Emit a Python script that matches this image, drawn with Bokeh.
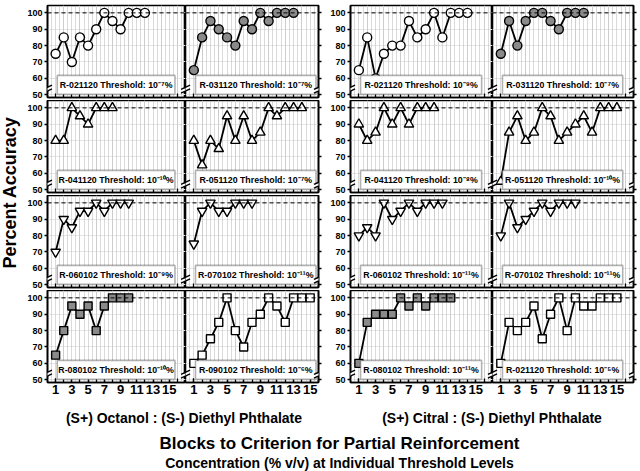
import numpy as np
from bokeh.plotting import figure
from bokeh.layouts import row, column
from bokeh.models import (FixedTicker, LinearAxis, Span, BoxAnnotation, Label, Range1d, Grid,
                          PolyAnnotation, Arrow)
from bokeh.embed import file_html
from bokeh.resources import INLINE
from bokeh.core.properties import value

# ---------------- data (percent accuracy per block) ----------------
# (S+) Octanol : (S-) Diethyl Phthalate
octanol_r021120 = [75, 85, 70, 85, 80, 90, 100, 95, 90, 100, 100, 100]
octanol_r031120 = [65, 85, 95, 90, 85, 80, 95, 90, 100, 95, 100, 100, 100]
octanol_r041120 = [80, 80, 100, 95, 90, 100, 100, 100]
octanol_r051120 = [80, 65, 80, 75, 95, 80, 95, 80, 85, 100, 95, 100, 100, 100]
octanol_r060102 = [70, 90, 85, 95, 95, 100, 95, 100, 100, 100]
octanol_r070102 = [75, 95, 100, 95, 95, 100, 100, 100]
octanol_r080102 = [65, 80, 95, 90, 95, 80, 95, 100, 100, 100]
octanol_r090102 = [60, 65, 75, 85, 100, 80, 70, 85, 90, 100, 95, 85, 100, 100, 100]
# (S+) Citral : (S-) Diethyl Phthalate
citral_r021120 = [65, 85, 60, 75, 80, 80, 95, 85, 90, 100, 85, 100, 100, 100]
citral_r031120 = [75, 95, 80, 95, 100, 100, 95, 90, 100, 100, 100]
citral_r041120 = [90, 80, 85, 100, 90, 100, 90, 100, 100, 100]
citral_r051120 = [55, 85, 95, 80, 85, 100, 95, 80, 85, 90, 95, 85, 100, 100, 100]
citral_r060102 = [80, 85, 80, 100, 90, 95, 100, 95, 100, 100, 100]
citral_r070102 = [80, 100, 85, 90, 95, 100, 95, 100, 100, 100]
citral_r080102 = [60, 85, 90, 90, 90, 100, 95, 100, 95, 100, 100, 100]
citral_r021120_b = [60, 85, 80, 85, 95, 75, 90, 100, 80, 100, 95, 95, 100, 100, 100]

labels = [
    ["R-021120 Threshold: 10\u207b\u2077%", "R-031120 Threshold: 10\u207b\u2077%",
     "R-021120 Threshold: 10\u207b\u2079%", "R-031120 Threshold: 10\u207b\u2077%"],
    ["R-041120 Threshold: 10\u207b\u00b9\u2070%", "R-051120 Threshold: 10\u207b\u2077%",
     "R-041120 Threshold: 10\u207b\u2078%", "R-051120 Threshold: 10\u207b\u00b9\u2070%"],
    ["R-060102 Threshold: 10\u207b\u2079%", "R-070102 Threshold: 10\u207b\u00b9\u00b9%",
     "R-060102 Threshold: 10\u207b\u00b9\u00b9%", "R-070102 Threshold: 10\u207b\u00b9\u00b9%"],
    ["R-080102 Threshold: 10\u207b\u00b9\u2070%", "R-090102 Threshold: 10\u207b\u2076%",
     "R-080102 Threshold: 10\u207b\u00b9\u00b9%", "R-021120 Threshold: 10\u207b\u2075%"],
]
series = [
    [octanol_r021120, octanol_r031120, citral_r021120, citral_r031120],
    [octanol_r041120, octanol_r051120, citral_r041120, citral_r051120],
    [octanol_r060102, octanol_r070102, citral_r060102, citral_r070102],
    [octanol_r080102, octanol_r090102, citral_r080102, citral_r021120_b],
]
row_markers = ["circle", "triangle", "inverted_triangle", "square"]
GRAY = "#8a8a8a"
fills = [
    ["white", GRAY, "white", GRAY],
    ["white", "white", "white", "white"],
    ["white", "white", "white", "white"],
    [GRAY, "white", GRAY, "white"],
]
x_tick_labels = [1, 3, 5, 7, 9, 11, 13, 15]
x_minor_ticks = list(range(1, 17))
y_ticks = [50, 60, 70, 80, 90, 100]
col_xmax = [17, 16, 17, 17]

group_titles = ["(S+) Octanol : (S-) Diethyl Phthalate", "(S+) Citral : (S-) Diethyl Phthalate"]
x_title = "Blocks to Criterion for Partial Reinforcement"
x_subtitle = "Concentration (% v/v) at Individual Threshold Levels"
y_title = "Percent Accuracy"

# ---------------- layout constants ----------------
FONT = "Liberation Sans"
FRAME_W = [140, 133, 142, 141]
BL = [21, 0, 28, 0]
BR = [0, 4, 0, 7]
YLAB_W = 24
FRAME_H = 92
Y0, Y1 = 48.3, 104.5
msize = {"circle": 9, "triangle": 9.5, "inverted_triangle": 9.5, "square": 8}


def break_mark(p, x):
    # axis-break symbol straddling a vertical border
    p.add_layout(PolyAnnotation(xs=[x - 0.45, x + 0.45, x + 0.45, x - 0.45],
                                ys=[51.3, 53.6, 55.3, 53.0],
                                fill_color="white", fill_alpha=1.0, line_color=None))
    for y0 in (51.0, 53.2):
        p.add_layout(Arrow(end=None, x_start=x - 0.55, y_start=y0,
                           x_end=x + 0.55, y_end=y0 + 2.6,
                           line_color="black", line_width=1.4))


def make_panel(vals, label, marker, fill, ci, ri):
    xmax = col_xmax[ci]
    fw = FRAME_W[ci]
    bl, br = BL[ci], BR[ci]
    bt = 5 if ri == 0 else 0
    bb = 18 if ri == 3 else 3
    p = figure(width=fw + bl + br, height=FRAME_H + bt + bb,
               x_range=Range1d(0, xmax), y_range=Range1d(Y0, Y1),
               x_axis_location=None, y_axis_location=None,
               toolbar_location=None, output_backend="svg",
               min_border_left=bl, min_border_right=br,
               min_border_top=bt, min_border_bottom=bb)
    p.outline_line_color = "black"
    p.outline_line_width = 1.6
    p.background_fill_color = "white"
    p.border_fill_color = "white"

    g = Grid(dimension=0, ticker=FixedTicker(ticks=list(np.arange(0.5, xmax, 0.5))),
             grid_line_color="#b4b4b4", grid_line_dash="1 1", grid_line_width=1)
    p.add_layout(g)

    if ri == 3:
        xt = FixedTicker(ticks=x_tick_labels, minor_ticks=x_minor_ticks)
    else:
        xt = FixedTicker(ticks=[], minor_ticks=x_minor_ticks)
    xa = LinearAxis(ticker=xt)
    xa.axis_line_width = 1.6
    xa.major_tick_in = 4
    xa.major_tick_out = 0
    xa.minor_tick_in = 4
    xa.minor_tick_out = 0
    xa.major_tick_line_width = 1.3
    xa.minor_tick_line_width = 1.3
    xa.major_label_text_font = FONT
    xa.major_label_text_font_style = "bold"
    xa.major_label_text_font_size = "13px"
    xa.major_label_text_color = "black"
    xa.major_label_standoff = 2
    p.add_layout(xa, "below")

    if ci in (0, 2):
        ya = LinearAxis(ticker=FixedTicker(ticks=y_ticks))
        ya.axis_line_width = 1.6
        ya.major_tick_in = 0
        ya.major_tick_out = 3
        ya.major_tick_line_width = 1.3
        ya.minor_tick_line_color = None
        ya.major_label_text_font = FONT
        ya.major_label_text_font_style = "bold"
        ya.major_label_text_font_size = "9px"
        ya.major_label_text_color = "black"
        ya.major_label_standoff = 2
        p.add_layout(ya, "left")
    else:
        ya = LinearAxis(ticker=FixedTicker(ticks=[], minor_ticks=y_ticks))
        ya.axis_line_width = 1.6
        ya.minor_tick_in = 0
        ya.minor_tick_out = 3
        ya.minor_tick_line_width = 1.3
        ya.major_tick_line_color = None
        p.add_layout(ya, "right")

    p.add_layout(Span(location=100, dimension="width", line_color="black",
                      line_dash="4 3", line_width=1))

    xs = list(range(1, len(vals) + 1))
    p.line(xs, vals, line_color="black", line_width=1.8)
    p.scatter(xs, vals, marker=marker, size=msize[marker], fill_color=fill,
              line_color="black", line_width=1.4)

    p.add_layout(BoxAnnotation(left=1.2, right=15.7, bottom=50.2, top=61.8,
                               fill_color="white", fill_alpha=1.0,
                               line_color="black", line_width=1.6))
    p.add_layout(Label(x=8.45, y=56.0, text=label, text_align="center",
                       text_baseline="middle", text_font=FONT,
                       text_font_style="bold", text_font_size="8.8px",
                       text_color="black"))
    break_mark(p, 0)
    break_mark(p, xmax)
    return p


rows_left = []
rows_right = []
for ri in range(4):
    ps = [make_panel(series[ri][ci], labels[ri][ci], row_markers[ri], fills[ri][ci], ci, ri)
          for ci in range(4)]
    rows_left.append(row(ps[0], ps[1]))
    rows_right.append(row(ps[2], ps[3]))

grid_h = sum(FRAME_H + (5 if ri == 0 else 0) + (18 if ri == 3 else 3) for ri in range(4))

ylab = figure(width=YLAB_W, height=grid_h, x_range=Range1d(0, YLAB_W), y_range=Range1d(0, grid_h),
              x_axis_location=None, y_axis_location=None, toolbar_location=None,
              output_backend="svg", min_border=0)
ylab.outline_line_color = None
ylab.grid.visible = False
ylab.text(x=[9], y=[grid_h - 192], text=[y_title], angle=np.pi / 2,
          text_align="center", text_baseline="middle",
          text_font=value(FONT), text_font_style="bold", text_font_size="18px",
          text_color="black")

top = row(ylab, column(*rows_left), column(*rows_right))

# bottom texts
W = 640
BH = 471 - grid_h
left_frame0 = YLAB_W + BL[0]
left_frame1 = left_frame0 + FRAME_W[0] + FRAME_W[1]
right_frame0 = left_frame1 + BR[1] + BL[2]
right_frame1 = right_frame0 + FRAME_W[2] + FRAME_W[3]

bot = figure(width=W, height=BH, x_range=Range1d(0, W), y_range=Range1d(0, BH),
             x_axis_location=None, y_axis_location=None, toolbar_location=None,
             output_backend="svg", min_border=0)
bot.outline_line_color = None
bot.grid.visible = False
bot.text(x=[(left_frame0 + left_frame1) / 2 + 2, (right_frame0 + right_frame1) / 2],
         y=[BH - 17, BH - 17], text=group_titles,
         text_align="center", text_baseline="middle", text_font=value(FONT),
         text_font_style="bold", text_font_size="14px", text_color="black")
bot.text(x=[(left_frame0 + right_frame1) / 2], y=[BH - 43], text=[x_title],
         text_align="center", text_baseline="middle", text_font=value(FONT),
         text_font_style="bold", text_font_size="17px", text_color="black")
bot.text(x=[(left_frame0 + right_frame1) / 2], y=[BH - 62], text=[x_subtitle],
         text_align="center", text_baseline="middle", text_font=value(FONT),
         text_font_style="bold", text_font_size="14px", text_color="black")

layout = column(top, bot)
open("out.html", "w").write(file_html(layout, INLINE))
